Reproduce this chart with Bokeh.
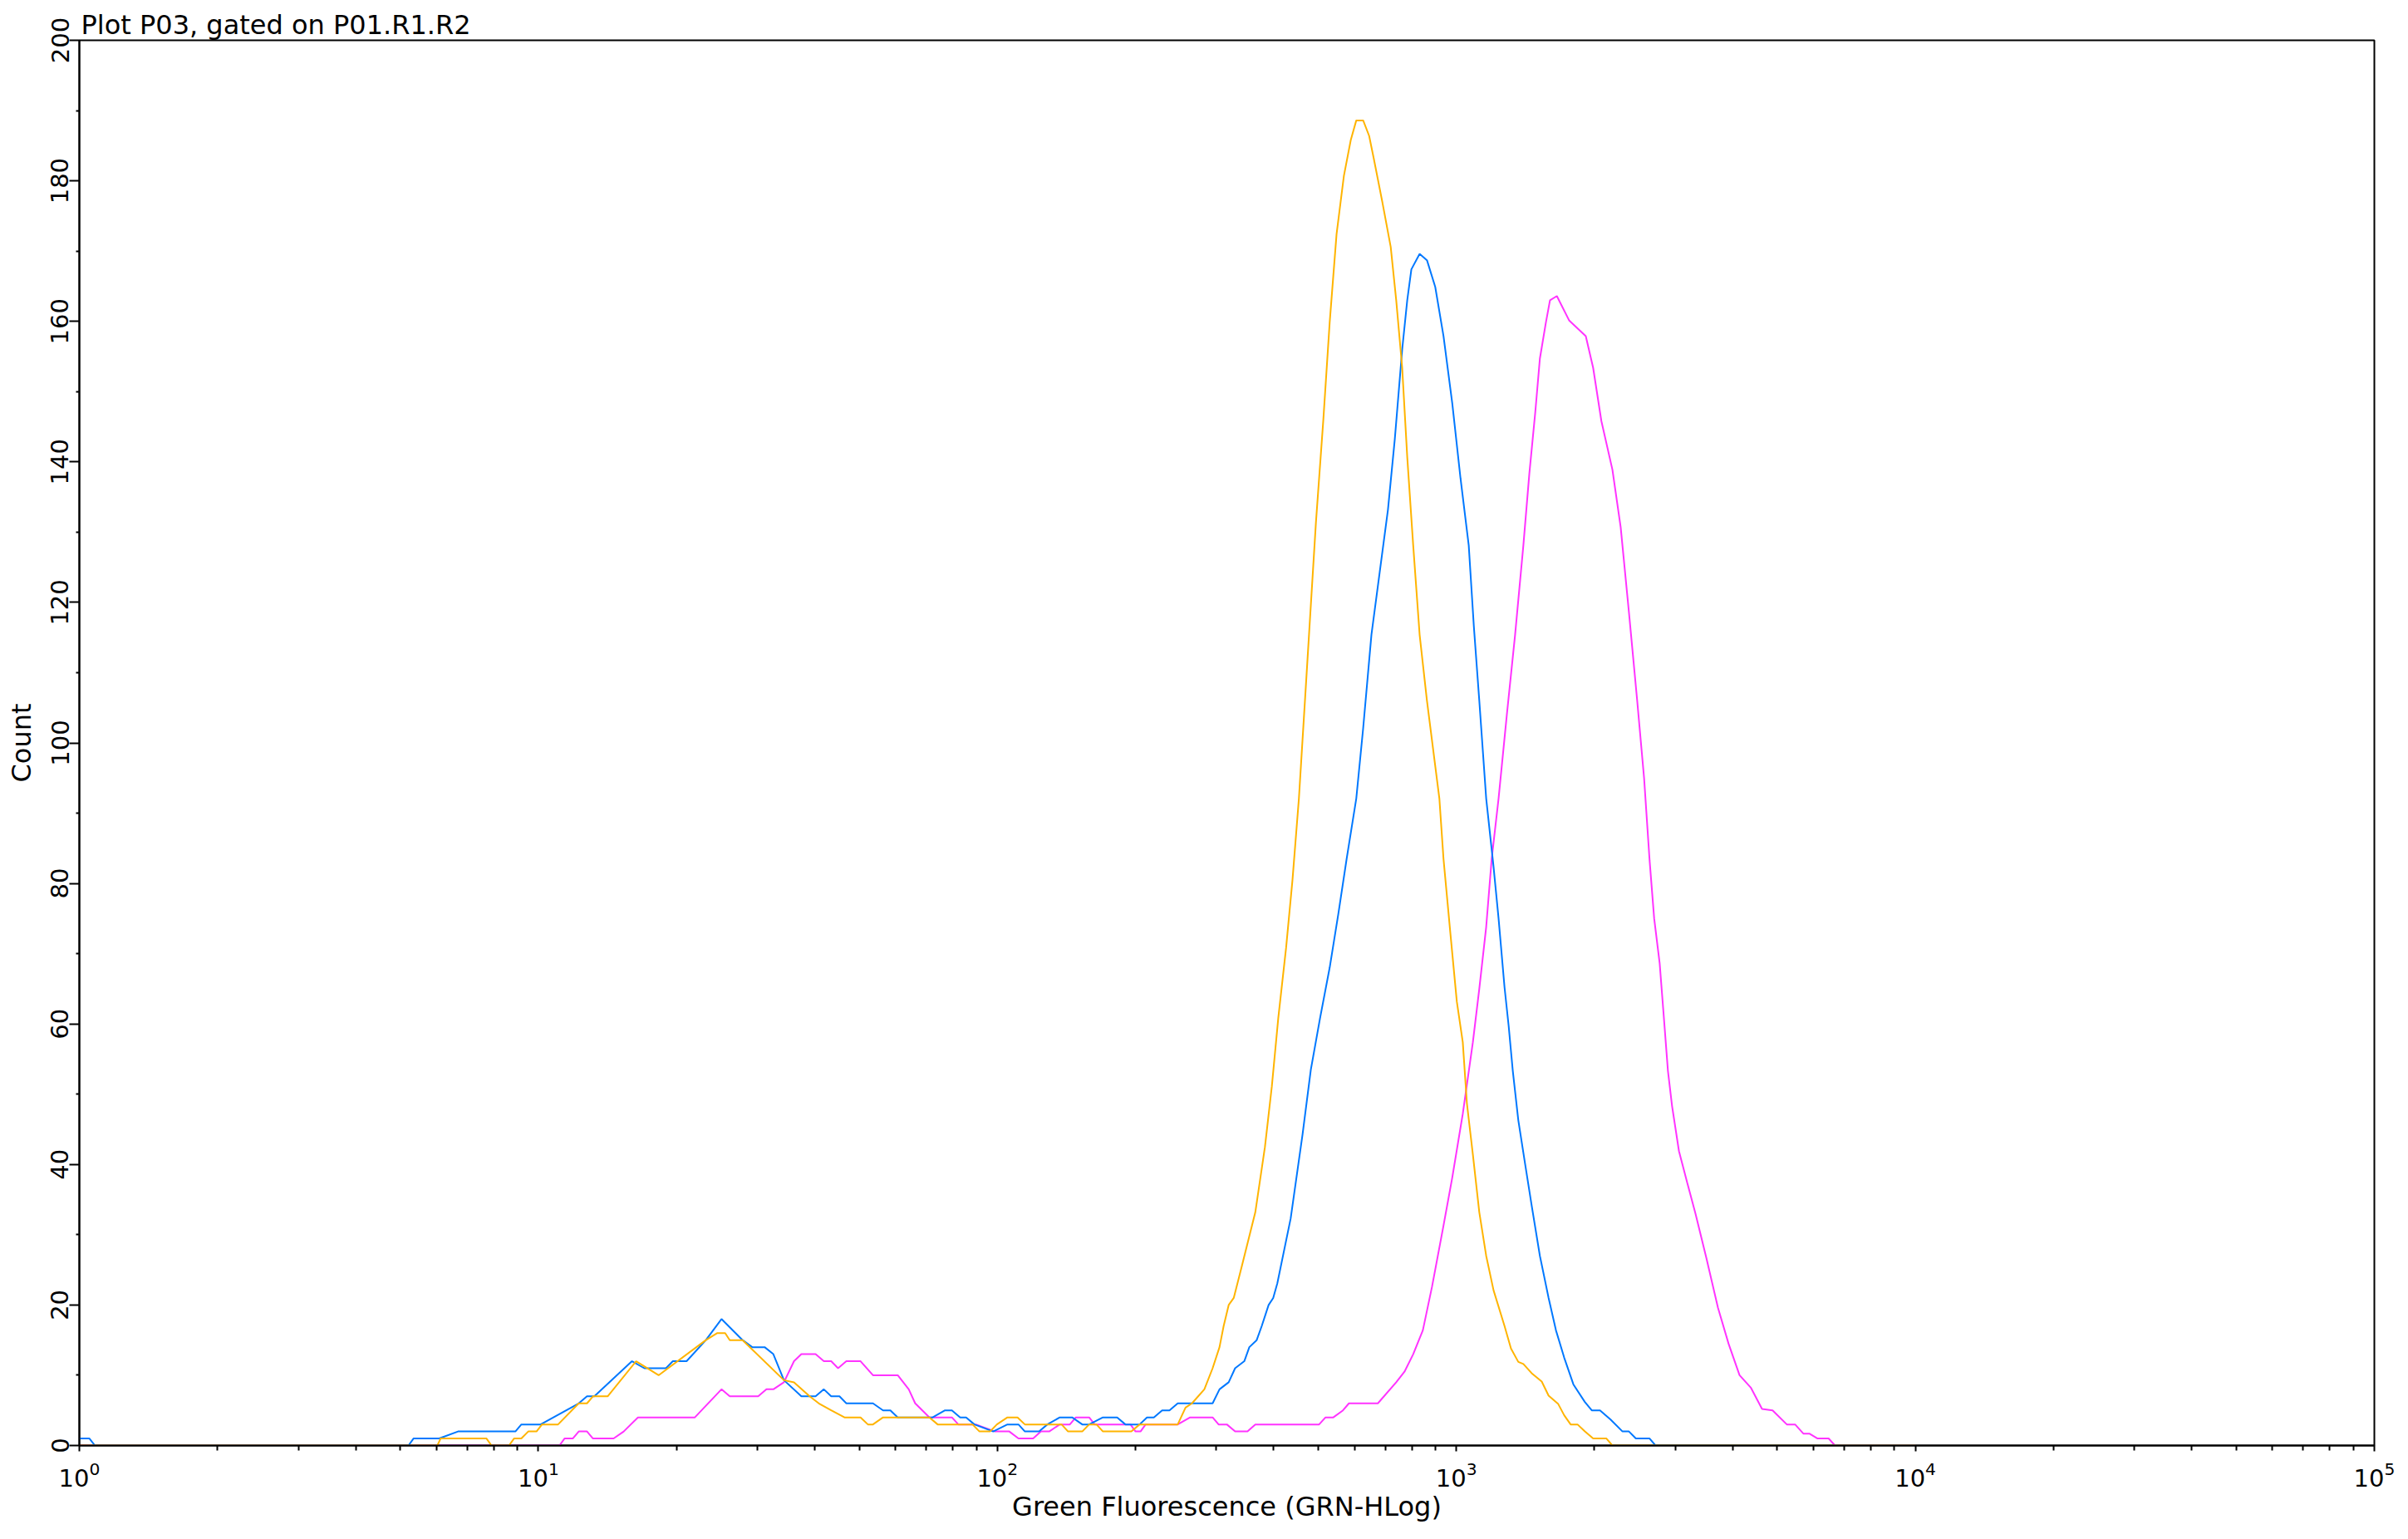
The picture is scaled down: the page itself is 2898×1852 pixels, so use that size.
import math
import numpy as np
from bokeh.plotting import figure
from bokeh.models import Range1d, FixedTicker
from bokeh.embed import file_html
from bokeh.resources import INLINE

# ---- data: x given in decades (log10 of GRN-HLog), y = count ----
blue_log10 = [0.000, 0.022, 0.034, 0.717, 0.728, 0.784, 0.825, 0.950, 0.963, 1.005,
              1.088, 1.106, 1.122, 1.204, 1.231, 1.278, 1.293, 1.323, 1.365, 1.399,
              1.445, 1.466, 1.493, 1.512, 1.535, 1.573, 1.604, 1.622, 1.638, 1.656,
              1.671, 1.729, 1.751, 1.767, 1.783, 1.859, 1.886, 1.901, 1.919, 1.932,
              1.950, 1.991, 2.022, 2.046, 2.060, 2.091, 2.109, 2.136, 2.163, 2.185,
              2.200, 2.230, 2.261, 2.279, 2.310, 2.326, 2.341, 2.359, 2.375, 2.393,
              2.469, 2.484, 2.504, 2.518, 2.538, 2.549, 2.565, 2.576, 2.591, 2.601,
              2.610, 2.639, 2.665, 2.683, 2.703, 2.724, 2.743, 2.761, 2.782, 2.797,
              2.815, 2.833, 2.851, 2.866, 2.882, 2.893, 2.902, 2.920, 2.936, 2.954,
              2.972, 2.991, 3.009, 3.027, 3.038, 3.050, 3.065, 3.081, 3.092, 3.105,
              3.114, 3.123, 3.135, 3.150, 3.164, 3.182, 3.201, 3.217, 3.235, 3.255,
              3.280, 3.295, 3.313, 3.336, 3.362, 3.376, 3.391, 3.421, 3.434, 4.000]
blue_count = [1, 1, 0, 0, 1, 1, 2, 2, 3, 3,
              6, 7, 7, 12, 11, 11, 12, 12, 15, 18,
              15, 14, 14, 13, 9.3, 7, 7, 8, 7, 7,
              6, 6, 5, 5, 4, 4, 5, 5, 4, 4,
              3, 2, 3, 3, 2, 2, 3, 4, 4, 3,
              3, 4, 4, 3, 3, 4, 4, 5, 5, 6,
              6, 8, 9, 11, 12, 14, 15, 17, 20, 21,
              23.1, 32.3, 44.3, 53.5, 60.8, 68.0, 75.7, 83.5, 92.1, 102.1,
              115.4, 124.3, 133.2, 143.3, 156.0, 163.0, 167.4, 169.6, 168.7, 164.9,
              157.9, 148.4, 137.7, 128.1, 116.7, 106.0, 92.1, 82.4, 75.0, 65.2,
              59.7, 53.3, 46.3, 40.0, 34.2, 27.0, 21.0, 16.4, 12.5, 8.7,
              6.2, 5, 5, 3.7, 2, 2, 1, 1, 0, 0]

yellow_log10 = [0.000, 0.780, 0.787, 0.887, 0.898, 0.936, 0.947, 0.963, 0.978, 0.996,
                1.008, 1.043, 1.088, 1.106, 1.119, 1.151, 1.213, 1.262, 1.365, 1.390,
                1.407, 1.417, 1.445, 1.535, 1.557, 1.591, 1.611, 1.638, 1.667, 1.702,
                1.718, 1.729, 1.751, 1.783, 1.852, 1.870, 1.946, 1.961, 1.984, 1.999,
                2.022, 2.044, 2.060, 2.140, 2.154, 2.185, 2.200, 2.216, 2.230, 2.292,
                2.310, 2.393, 2.410, 2.424, 2.451, 2.469, 2.484, 2.493, 2.504, 2.515,
                2.531, 2.562, 2.583, 2.598, 2.612, 2.629, 2.643, 2.657, 2.676, 2.694,
                2.710, 2.724, 2.739, 2.755, 2.770, 2.782, 2.797, 2.810, 2.820, 2.839,
                2.857, 2.869, 2.882, 2.893, 2.906, 2.920, 2.936, 2.963, 2.972, 2.987,
                3.001, 3.014, 3.023, 3.036, 3.050, 3.065, 3.081, 3.105, 3.119, 3.135,
                3.146, 3.164, 3.186, 3.201, 3.222, 3.235, 3.249, 3.264, 3.280, 3.298,
                3.327, 3.340, 4.000]
yellow_count = [0, 0, 1, 1, 0, 0, 1, 1, 2, 2,
                3, 3, 6, 6, 7, 7, 12, 10, 15, 16,
                16, 15, 15, 9.3, 9, 7, 6, 5, 4, 4,
                3, 3, 4, 4, 4, 3, 3, 2, 2, 3,
                4, 4, 3, 3, 2, 2, 3, 3, 2, 2,
                3, 3, 5.4, 6, 8, 11, 14, 17, 20, 21,
                25.1, 33.2, 42.5, 51.1, 60.8, 70.8, 80.5, 92.1, 112.2, 131.3,
                145.8, 159.8, 172.4, 180.7, 185.8, 188.6, 188.6, 186.4, 183.2, 176.9,
                170.6, 163.0, 153.4, 140.7, 128.1, 115.4, 106.0, 92.1, 83.5, 72.9,
                63.2, 57.4, 48.7, 41.4, 33.2, 27.0, 22.1, 17.0, 13.8, 11.9,
                11.6, 10.3, 9.1, 7.1, 5.9, 4.3, 3, 3, 2, 1,
                1, 0, 0]

magenta_log10 = [0.000, 1.046, 1.057, 1.075, 1.088, 1.106, 1.119, 1.164, 1.186, 1.217,
                 1.341, 1.399, 1.417, 1.479, 1.497, 1.512, 1.535, 1.557, 1.573, 1.604,
                 1.622, 1.638, 1.653, 1.671, 1.702, 1.729, 1.783, 1.807, 1.821, 1.852,
                 1.901, 1.915, 1.953, 1.995, 2.026, 2.046, 2.078, 2.095, 2.113, 2.136,
                 2.158, 2.171, 2.200, 2.212, 2.290, 2.301, 2.312, 2.323, 2.393, 2.420,
                 2.469, 2.482, 2.500, 2.518, 2.545, 2.562, 2.701, 2.715, 2.732, 2.753,
                 2.766, 2.829, 2.869, 2.887, 2.906, 2.927, 2.947, 2.972, 2.991, 3.014,
                 3.036, 3.050, 3.065, 3.077, 3.092, 3.110, 3.128, 3.146, 3.159, 3.172,
                 3.182, 3.195, 3.204, 3.219, 3.246, 3.282, 3.298, 3.316, 3.340, 3.358,
                 3.376, 3.394, 3.409, 3.421, 3.431, 3.443, 3.452, 3.461, 3.470, 3.485,
                 3.503, 3.521, 3.545, 3.570, 3.593, 3.617, 3.642, 3.666, 3.689, 3.720,
                 3.738, 3.756, 3.769, 3.787, 3.811, 3.825, 4.000]
magenta_count = [0, 0, 1, 1, 2, 2, 1, 1, 2, 4,
                 4, 8, 7, 7, 8, 8, 9, 12, 13, 13,
                 12, 12, 11, 12, 12, 10, 10, 8, 6, 4,
                 4, 3, 3, 2, 2, 1, 1, 2, 2, 3,
                 3, 4, 4, 3, 3, 2, 2, 3, 3, 4,
                 4, 3, 3, 2, 2, 3, 3, 4, 4, 5,
                 6, 6, 9, 10.5, 13, 16.4, 22.6, 31.3, 38.1, 47.2,
                 57.4, 65.0, 73.8, 83.5, 92.1, 104.0, 115.4, 128.1, 138.3, 147.1,
                 154.7, 159.8, 163.0, 163.6, 160.1, 157.9, 153.4, 145.8, 138.9, 130.7,
                 118.6, 106.0, 95.0, 83.3, 75.0, 68.6, 61.0, 53.3, 48.3, 41.9,
                 37.4, 33.0, 26.6, 19.6, 14.5, 10.0, 8.2, 5.2, 5, 3,
                 3, 1.7, 1.7, 1, 1, 0, 0]

x_major_ticks = [1, 10, 100, 1000, 10000, 100000]
x_minor_mantissas = [2, 3, 4, 5, 6, 7, 8, 9]
y_major_ticks = [0, 20, 40, 60, 80, 100, 120, 140, 160, 180, 200]
y_minor_ticks = [10, 30, 50, 70, 90, 110, 130, 150, 170, 190]

title_text = "Plot P03, gated on P01.R1.R2"
x_label = "Green Fluorescence (GRN-HLog)"
y_label = "Count"

FONT = "DejaVu Sans"

p = figure(width=2890, height=1844, x_axis_type="log",
           x_range=Range1d(1, 100000), y_range=Range1d(0, 200),
           output_backend="svg", toolbar_location=None,
           min_border_left=95, min_border_right=33,
           min_border_top=48, min_border_bottom=105,
           title=title_text)

p.background_fill_color = "white"
p.border_fill_color = "white"
p.outline_line_color = "black"
p.outline_line_width = 2
p.xgrid.visible = False
p.ygrid.visible = False

p.title.text_font = FONT
p.title.text_font_size = "32px"
p.title.text_font_style = "normal"
p.title.text_color = "black"
p.title.align = "left"
p.title.offset = 2
p.title.standoff = 0

minor_x = [m * d for d in x_major_ticks[:-1] for m in x_minor_mantissas]
p.xaxis.ticker = FixedTicker(ticks=x_major_ticks, minor_ticks=minor_x)
p.yaxis.ticker = FixedTicker(ticks=y_major_ticks, minor_ticks=y_minor_ticks)

for ax in (p.xaxis[0], p.yaxis[0]):
    ax.axis_line_color = "black"
    ax.axis_line_width = 2
    ax.major_tick_line_color = "black"
    ax.minor_tick_line_color = "black"
    ax.major_tick_line_width = 2
    ax.minor_tick_line_width = 2
    ax.major_tick_in = 0
    ax.minor_tick_in = 0
    ax.major_label_text_font = FONT
    ax.major_label_text_font_size = "29px"
    ax.major_label_text_color = "black"
    ax.axis_label_text_font = FONT
    ax.axis_label_text_font_size = "32px"
    ax.axis_label_text_font_style = "normal"
    ax.axis_label_text_color = "black"

p.xaxis.major_tick_out = 7
p.xaxis.minor_tick_out = 6
p.xaxis.major_label_standoff = 12
p.xaxis.axis_label = x_label
p.xaxis.axis_label_standoff = 2

p.yaxis.major_tick_out = 12
p.yaxis.minor_tick_out = 4
p.yaxis.major_label_orientation = "vertical"
p.yaxis.major_label_standoff = 1
p.yaxis.axis_label = y_label
p.yaxis.axis_label_standoff = 14

series = [
    (magenta_log10, magenta_count, "#FF33FF"),
    (blue_log10, blue_count, "#0078FF"),
    (yellow_log10, yellow_count, "#FFB400"),
]
for lg, cnt, col in series:
    xs = np.power(10.0, np.array(lg))
    p.line(xs, cnt, line_color=col, line_width=2)

open("out.html", "w").write(file_html(p, INLINE))
